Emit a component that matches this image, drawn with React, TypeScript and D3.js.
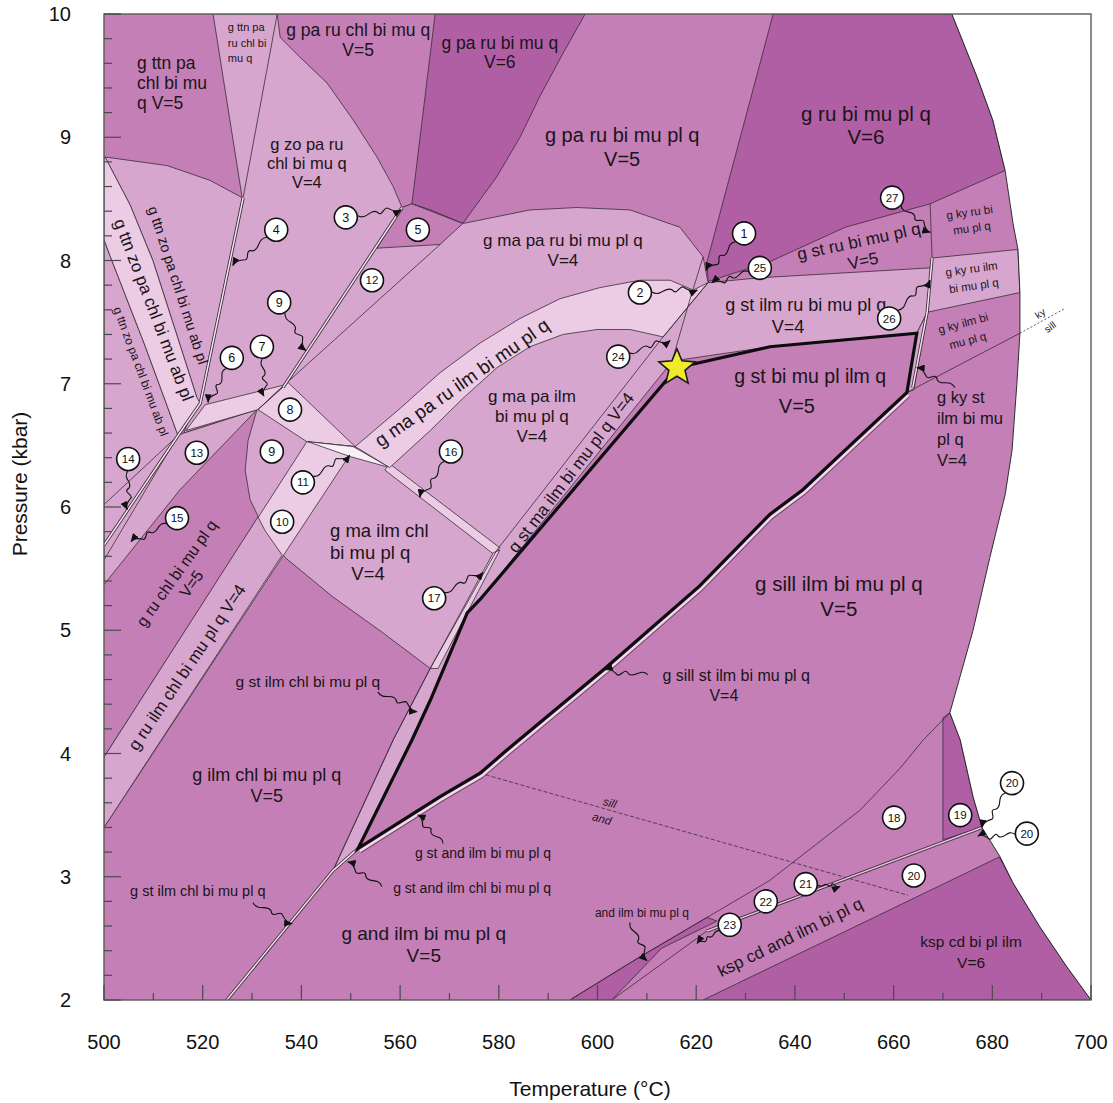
import React, { useEffect } from 'react';
import * as d3 from 'd3';

type Pt = [number, number];

// ---------- axes ----------
const temperatureTicks = [500, 520, 540, 560, 580, 600, 620, 640, 660, 680, 700];
const pressureTicks = [2, 3, 4, 5, 6, 7, 8, 9, 10];

// ---------- field colours (darker = higher variance) ----------
const shade = { v6: '#B05FA4', v5: '#C47FB6', v4: '#D7A6CE', v3: '#ECCCE5', v2: '#F9EFF7' };

// ---------- outer stability limit (T °C, P kbar) ----------
const stabilityEdge: Pt[] = [
  [671.8, 10], [676.9, 9.49], [680.1, 9.14], [682.6, 8.73], [684.2, 8.3], [685.2, 8.09], [685.6, 7.74],
  [685.6, 7.41], [685.0, 7.01], [684.0, 6.46], [682.6, 6.1], [679.5, 5.59], [676.1, 5.0], [671.4, 4.33],
  [673.5, 4.11], [676.1, 3.65], [677.9, 3.4], [681.6, 3.16], [684.2, 2.95], [689.7, 2.59], [695.1, 2.27], [700, 2],
];
const stableRegion: Pt[] = [[500, 10], ...stabilityEdge, [500, 2]];

// ---------- V=6 fields ----------
const paRuBiMuQ: Pt[] = [[567.1, 10], [597.5, 10], [593.0, 9.68], [588.3, 9.33], [584.3, 9.0], [579.6, 8.68], [572.7, 8.3], [566.1, 8.41], [562.4, 8.46]];
const ruBiMuPlQ: Pt[] = [[635.6, 10], [671.8, 10], [676.9, 9.49], [680.1, 9.14], [682.6, 8.73], [667.4, 8.46], [650.2, 8.27], [634.9, 7.99], [622.4, 7.83], [622.2, 7.99]];
const kspCdBiPlIlm: Pt[] = [[621.4, 2.0], [681.4, 3.16], [684.2, 2.95], [689.7, 2.59], [695.1, 2.27], [700, 2.0]];
const field19: Pt[] = [[670.0, 4.29], [671.4, 4.33], [673.5, 4.11], [676.1, 3.65], [677.9, 3.4], [670.0, 3.3]];
const andIlmBiMuPlQ: Pt[] = [[594.4, 2.0], [608.6, 2.35], [622.2, 2.67], [624.2, 2.64], [613.0, 2.42], [602.9, 2.0]];

// ---------- V=4 fields (one connected light area) ----------
const lightArea: Pt[] = [
  [522.1, 10], [535.1, 10], [535.7, 9.81], [539.7, 9.65], [545.2, 9.44], [550.5, 9.14], [555.3, 8.84], [558.6, 8.6],
  [560.4, 8.43], [562.4, 8.46], [566.1, 8.41], [572.7, 8.3], [586.3, 8.41], [595.8, 8.43], [606.6, 8.41], [616.7, 8.27],
  [621.4, 8.03], [622.4, 7.82], [632.9, 7.86], [667.4, 7.94], [667.8, 8.02], [685.2, 8.09], [685.6, 7.74], [666.8, 7.58],
  [664.7, 7.41], [634.9, 7.3], [616.1, 7.19], [615.1, 7.18], [576.2, 5.25], [573.6, 5.14], [566.1, 4.43], [562.4, 4.11],
  [551.5, 3.23], [546.4, 3.05], [558.6, 4.11], [566.1, 4.69], [556.5, 4.98], [546.4, 5.27], [536.7, 5.59], [532.6, 5.81],
  [529.6, 6.06], [528.6, 6.3], [529.2, 6.54], [531.0, 6.79], [516.2, 6.6], [518.8, 6.89], [514.4, 7.44], [509.9, 8.0],
  [505.3, 8.45], [500.2, 8.84], [512.8, 8.77], [521.5, 8.65], [528.0, 8.51],
];
const leftLight: Pt[] = [[500, 8.17], [501.2, 8.04], [508.3, 7.31], [515.0, 6.58], [516.2, 6.6], [531.0, 6.79], [515.4, 6.14], [500, 5.37]];
const ruIlmLowerBand: Pt[] = [[500, 3.97], [531.2, 5.92], [532.6, 5.81], [536.1, 5.61], [500, 3.4]];
const kyStSliver: Pt[] = [[666.8, 7.58], [664.7, 7.41], [662.7, 6.93], [664.1, 6.95]];

// ---------- V=3 / V=2 fields ----------
const ttnZoBand: Pt[] = [[500, 8.84], [500.2, 8.84], [505.3, 8.45], [509.9, 8.0], [514.4, 7.44], [518.8, 6.89], [519.5, 6.84], [515.0, 6.58], [508.3, 7.31], [501.2, 8.04], [500, 8.17]];
const field7Band: Pt[] = [[516.6, 6.62], [520.5, 6.83], [536.5, 6.99], [531.2, 6.79]];
const field8: Pt[] = [[537.3, 7.01], [550.9, 6.49], [541.1, 6.53], [531.2, 6.79]];
const ruIlmBand: Pt[] = [[500, 3.97], [541.1, 6.53], [550.9, 6.49], [500, 3.4]];
const field11: Pt[] = [[541.3, 6.53], [550.5, 6.49], [557.9, 6.32], [549.8, 6.41]];
const field16: Pt[] = [[557.9, 6.35], [580.2, 5.67], [579.2, 5.61], [556.9, 6.3]];
const field17: Pt[] = [[566.1, 4.69], [578.9, 5.63], [580.2, 5.65], [567.7, 4.69]];
const maPaRuIlmBand: Pt[] = [
  [550.9, 6.49], [560.0, 6.8], [568.1, 7.09], [576.2, 7.33], [584.3, 7.53], [592.4, 7.69], [600.5, 7.78], [608.6, 7.84],
  [614.7, 7.84], [619.4, 7.76], [622.4, 7.82], [613.3, 7.38], [606.6, 7.44], [599.9, 7.44], [593.0, 7.4], [586.3, 7.3],
  [579.6, 7.13], [572.7, 6.88], [566.1, 6.62], [557.9, 6.32],
];
const field5: Pt[] = [[555.3, 8.1], [560.4, 8.43], [562.4, 8.46], [572.7, 8.3], [568.1, 8.13]];

// ---------- boundaries inside same-coloured areas ----------
const ttnLine: Pt[] = [[535.1, 10], [528.2, 8.51]];
const chlOutDouble: Pt[] = [[528.2, 8.51], [519.5, 6.84], [515.0, 6.58], [500, 5.69]];
const zoOutDouble: Pt[] = [[560.4, 8.43], [536.3, 6.97]];
const maInLine: Pt[] = [[568.1, 8.13], [537.1, 7.01], [531.2, 6.79]];
const kyRuLine: Pt[] = [[667.4, 8.46], [667.8, 8.02]];
const stInDouble: Pt[] = [[667.8, 8.02], [666.8, 7.58], [663.9, 6.97]];
const kySill: Pt[] = [[662.7, 6.93], [685.6, 7.41]];
const kySillOut: Pt[] = [[685.6, 7.41], [694.7, 7.61]];
const stInLine: Pt[] = [[546.4, 3.05], [558.6, 4.11], [566.1, 4.69], [579.6, 5.65], [613.3, 7.38], [622.4, 7.82]];
const maOutLine: Pt[] = [[615.3, 7.21], [618.7, 7.68], [621.4, 8.03]];
const ttnJunctionA: Pt[] = [[515.0, 6.58], [500, 6.02]];
const ttnJunctionB: Pt[] = [[515.0, 6.58], [500, 5.57]];
const sillAnd: Pt[] = [[576.2, 3.84], [662.9, 2.85]];
const cdIn: Pt[] = [[594.4, 2.0], [608.6, 2.35], [622.2, 2.67], [634.9, 2.97], [653.2, 3.54], [661.3, 3.88], [666.0, 4.11], [671.4, 4.33]];
const kspInLine: Pt[] = [[602.9, 2.0], [622.2, 2.56]];
const kspInDouble: Pt[] = [[622.2, 2.56], [677.9, 3.4]];
const stChlDouble: Pt[] = [[524.9, 2.0], [546.4, 3.05], [551.5, 3.23]];

// ---------- highlighted assemblage outline ----------
const stBiMuPlIlmQ: Pt[] = [
  [616.1, 7.13], [634.9, 7.3], [664.7, 7.41], [662.7, 6.93], [651.2, 6.5], [641.6, 6.14], [634.9, 5.94], [620.7, 5.36],
  [601.5, 4.69], [581.7, 4.03], [576.2, 3.84], [568.1, 3.65], [551.5, 3.23], [562.4, 4.11], [566.1, 4.43], [573.6, 5.14],
  [576.2, 5.25], [616.1, 7.13],
];
const sillStEdge: Pt[] = [[551.5, 3.23], [568.1, 3.65], [576.2, 3.84], [581.7, 4.03], [601.5, 4.69], [620.7, 5.36], [634.9, 5.94], [641.6, 6.14], [651.2, 6.5], [662.7, 6.93]];
const samplePT: Pt = [616.1, 7.13];

// ---------- field labels ----------
type Label = { lines: string[]; at: Pt; size: number; lh?: number; anchor?: string; rot?: number; mid?: boolean; italic?: boolean };
const fieldLabels: Label[] = [
  { lines: ['g ttn pa', 'chl bi mu', 'q V=5'], at: [506.7, 9.55], size: 17.5, lh: 20, anchor: 'start' },
  { lines: ['g ttn pa', 'ru chl bi', 'mu q'], at: [525.1, 9.86], size: 11, lh: 15.5, anchor: 'start' },
  { lines: ['g pa ru chl bi mu q', 'V=5'], at: [551.5, 9.82], size: 17.5, lh: 20 },
  { lines: ['g pa ru bi mu q', 'V=6'], at: [580.2, 9.72], size: 17.5, lh: 19 },
  { lines: ['g pa ru bi mu pl q', 'V=5'], at: [605.0, 8.96], size: 20, lh: 24 },
  { lines: ['g ru bi mu pl q', 'V=6'], at: [654.4, 9.13], size: 20.5, lh: 23 },
  { lines: ['g zo pa ru', 'chl bi mu q', 'V=4'], at: [541.1, 8.9], size: 16.5, lh: 19 },
  { lines: ['g ttn zo pa chl bi mu ab pl'], at: [510.1, 7.6], size: 17, rot: 69, mid: true },
  { lines: ['g ttn zo pa chl bi mu ab pl'], at: [515.0, 7.8], size: 14.5, rot: 72, mid: true },
  { lines: ['g ttn zo pa chl bi mu ab pl'], at: [507.5, 7.1], size: 12, rot: 69.5, mid: true },
  { lines: ['g ma pa ru bi mu pl q', 'V=4'], at: [593.0, 8.12], size: 17, lh: 20 },
  { lines: ['g st ru bi mu pl q', 'V=5'], at: [653.2, 8.11], size: 17, lh: 20, rot: -12 },
  { lines: ['g ky ru bi', 'mu pl q'], at: [675.5, 8.36], size: 11.5, lh: 16, rot: -8 },
  { lines: ['g ky ru ilm', 'bi mu pl q'], at: [675.9, 7.9], size: 11.5, lh: 17, rot: -8 },
  { lines: ['g ky ilm bi', 'mu pl q'], at: [674.3, 7.46], size: 11.5, lh: 18, rot: -15 },
  { lines: ['ky'], at: [689.7, 7.57], size: 10, rot: -35, mid: true },
  { lines: ['sill'], at: [691.7, 7.46], size: 10, rot: -35, mid: true },
  { lines: ['g st ilm ru bi mu pl q'], at: [642.2, 7.59], size: 18 },
  { lines: ['V=4'], at: [638.6, 7.41], size: 18 },
  { lines: ['g st bi mu pl ilm q'], at: [643.1, 7.01], size: 19.5 },
  { lines: ['V=5'], at: [640.4, 6.76], size: 20 },
  { lines: ['g ky st', 'ilm bi mu', 'pl q', 'V=4'], at: [668.8, 6.84], size: 16.5, lh: 21, anchor: 'start' },
  { lines: ['g ma pa ru ilm bi mu pl q'], at: [572.5, 7.01], size: 19, rot: -35, mid: true },
  { lines: ['g ma pa ilm', 'bi mu pl q', 'V=4'], at: [586.7, 6.85], size: 17, lh: 20 },
  { lines: ['g st ma ilm bi mu pl q V=4'], at: [594.6, 6.28], size: 17, rot: -52.7, mid: true },
  { lines: ['g ma ilm chl', 'bi mu pl q'], at: [545.8, 5.76], size: 18.5, lh: 22, anchor: 'start' },
  { lines: ['V=4'], at: [553.5, 5.41], size: 18.5 },
  { lines: ['g ru chl bi mu pl q', 'V=5'], at: [516.2, 5.42], size: 16, lh: 18, rot: -54.5, mid: true },
  { lines: ['g ru ilm chl bi mu pl q V=4'], at: [516.8, 4.7], size: 17, rot: -56, mid: true },
  { lines: ['g st ilm chl bi mu pl q'], at: [541.3, 4.54], size: 15.5 },
  { lines: ['g ilm chl bi mu pl q', 'V=5'], at: [533.0, 3.78], size: 18, lh: 21 },
  { lines: ['g st ilm chl bi mu pl q'], at: [519.0, 2.84], size: 14.5 },
  { lines: ['g and ilm bi mu pl q', 'V=5'], at: [564.8, 2.49], size: 19, lh: 22 },
  { lines: ['g st and ilm bi mu pl q'], at: [576.8, 3.15], size: 14 },
  { lines: ['g st and ilm chl bi mu pl q'], at: [574.6, 2.87], size: 14 },
  { lines: ['g sill st ilm bi mu pl q'], at: [628.1, 4.59], size: 16 },
  { lines: ['V=4'], at: [625.6, 4.43], size: 16 },
  { lines: ['g sill ilm bi mu pl q', 'V=5'], at: [648.9, 5.32], size: 20.5, lh: 25 },
  { lines: ['sill'], at: [602.5, 3.6], size: 11.5, rot: 16, mid: true, italic: true },
  { lines: ['and'], at: [600.9, 3.47], size: 11.5, rot: 16, mid: true, italic: true },
  { lines: ['and ilm bi mu pl q'], at: [609.0, 2.67], size: 12 },
  { lines: ['ksp cd and ilm bi pl q'], at: [639.0, 2.51], size: 17, rot: -26, mid: true },
  { lines: ['ksp cd bi pl ilm', 'V=6'], at: [675.7, 2.43], size: 15.5, lh: 21 },
];

// ---------- numbered small fields ----------
type Callout = { n: string; at: Pt; to?: Pt };
const callouts: Callout[] = [
  { n: '1', at: [629.7, 8.22], to: [622.0, 7.92] },
  { n: '2', at: [608.6, 7.74], to: [620.2, 7.76] },
  { n: '3', at: [549.0, 8.35], to: [560.2, 8.41] },
  { n: '4', at: [534.9, 8.25], to: [526.1, 7.96] },
  { n: '5', at: [563.6, 8.25] },
  { n: '6', at: [525.9, 7.21], to: [521.1, 6.85] },
  { n: '7', at: [532.0, 7.3], to: [532.4, 6.9] },
  { n: '8', at: [537.7, 6.79] },
  { n: '9', at: [535.5, 7.66], to: [540.9, 7.27] },
  { n: '9', at: [534.0, 6.45] },
  { n: '10', at: [536.1, 5.88] },
  { n: '11', at: [540.3, 6.2], to: [549.8, 6.42] },
  { n: '12', at: [554.3, 7.84] },
  { n: '13', at: [518.8, 6.44] },
  { n: '14', at: [504.9, 6.39], to: [504.7, 5.98] },
  { n: '15', at: [514.8, 5.91], to: [505.5, 5.72] },
  { n: '16', at: [570.3, 6.45], to: [564.0, 6.08] },
  { n: '17', at: [566.9, 5.26], to: [576.8, 5.47] },
  { n: '18', at: [660.1, 3.48] },
  { n: '19', at: [673.5, 3.5] },
  { n: '20', at: [684.0, 3.76], to: [677.9, 3.4] },
  { n: '20', at: [687.0, 3.35], to: [677.1, 3.33] },
  { n: '20', at: [664.1, 3.01] },
  { n: '21', at: [642.2, 2.94], to: [649.1, 2.92] },
  { n: '22', at: [634.1, 2.8] },
  { n: '23', at: [626.8, 2.61], to: [620.2, 2.46] },
  { n: '24', at: [604.2, 7.22], to: [614.7, 7.35] },
  { n: '25', at: [632.9, 7.94], to: [623.2, 7.82] },
  { n: '26', at: [659.1, 7.53], to: [667.4, 7.84] },
  { n: '27', at: [659.7, 8.51], to: [667.4, 8.23] },
];
const labelPointers: [Pt, Pt][] = [
  [[555.5, 4.5], [563.4, 4.34]],
  [[610.2, 4.64], [601.5, 4.68]],
  [[672.4, 6.97], [664.7, 7.13]],
  [[530.2, 2.79], [538.1, 2.62]],
  [[568.7, 3.27], [563.6, 3.5]],
  [[556.3, 2.92], [549.4, 3.12]],
  [[606.6, 2.63], [610.0, 2.32]],
];

// ---------- scales ----------
const W = 1113;
const H = 1103;
const x = d3.scaleLinear().domain([500, 700]).range([104, 1091]);
const y = d3.scaleLinear().domain([2, 10]).range([1000, 14]);
const line = d3.line<Pt>().x((d) => x(d[0])).y((d) => y(d[1]));
const closed = (pts: Pt[]) => (line(pts) || '') + 'Z';

const INK = '#3a2c37';
const FONT = "'Liberation Sans', Arial, Helvetica, sans-serif";

function squiggle(from: Pt, to: Pt, gap: number): string {
  const x0 = x(from[0]);
  const y0 = y(from[1]);
  const x1 = x(to[0]);
  const y1 = y(to[1]);
  const L = Math.hypot(x1 - x0, y1 - y0);
  const ux = (x1 - x0) / L;
  const uy = (y1 - y0) / L;
  const nx = -uy;
  const ny = ux;
  const sx = x0 + ux * gap;
  const sy = y0 + uy * gap;
  const l = L - gap;
  const w = Math.min(6, l * 0.16);
  const p = (t: number, n: number) => `${sx + ux * l * t + nx * n},${sy + uy * l * t + ny * n}`;
  return `M${sx},${sy} C${p(0.2, w)} ${p(0.3, -w)} ${p(0.45, -w * 0.2)} C${p(0.55, w * 0.9)} ${p(0.62, -w)} ${p(0.7, -w * 0.6)} Q${p(0.88, w * 0.4)} ${x1},${y1}`;
}

function starPath(c: Pt, R: number, r: number): string {
  const cx = x(c[0]);
  const cy = y(c[1]);
  const pts: string[] = [];
  for (let i = 0; i < 10; i++) {
    const a = -Math.PI / 2 + (i * Math.PI) / 5;
    const rad = i % 2 === 0 ? R : r;
    pts.push(`${cx + rad * Math.cos(a)},${cy + rad * Math.sin(a)}`);
  }
  return 'M' + pts.join('L') + 'Z';
}

const DoubleLine = ({ pts, pale = '#F4E4F0' }: { pts: Pt[]; pale?: string }) => (
  <g fill="none">
    <path d={line(pts) || ''} stroke={INK} strokeWidth={3.2} />
    <path d={line(pts) || ''} stroke={pale} strokeWidth={1.5} />
  </g>
);

const FieldLabel = ({ l }: { l: Label }) => {
  const lh = l.lh ?? l.size * 1.15;
  const y0 = l.mid ? l.size * 0.35 - ((l.lines.length - 1) * lh) / 2 : 0;
  return (
    <g transform={`translate(${x(l.at[0])},${y(l.at[1])}) rotate(${l.rot ?? 0})`}>
      <text
        fontSize={l.size}
        textAnchor={l.anchor ?? 'middle'}
        fill="#1b1418"
        fontStyle={l.italic ? 'italic' : 'normal'}
      >
        {l.lines.map((s, i) => (
          <tspan key={i} x={0} y={y0 + i * lh}>
            {s}
          </tspan>
        ))}
      </text>
    </g>
  );
};

export default function App() {
  useEffect(() => {
    document.body.style.margin = '0';
  }, []);

  const fills: { pts: Pt[]; fill: string }[] = [
    { pts: paRuBiMuQ, fill: shade.v6 },
    { pts: ruBiMuPlQ, fill: shade.v6 },
    { pts: kspCdBiPlIlm, fill: shade.v6 },
    { pts: field19, fill: shade.v6 },
    { pts: andIlmBiMuPlQ, fill: shade.v6 },
    { pts: lightArea, fill: shade.v4 },
    { pts: leftLight, fill: shade.v4 },
    { pts: ttnZoBand, fill: shade.v3 },
    { pts: field7Band, fill: shade.v3 },
    { pts: field8, fill: shade.v3 },
    { pts: ruIlmBand, fill: shade.v3 },
    { pts: ruIlmLowerBand, fill: shade.v4 },
    { pts: field11, fill: shade.v2 },
    { pts: field16, fill: shade.v3 },
    { pts: field17, fill: shade.v3 },
    { pts: maPaRuIlmBand, fill: shade.v3 },
    { pts: field5, fill: shade.v5 },
    { pts: kyStSliver, fill: shade.v4 },
  ];

  const yTickVals = d3.range(20, 101, 2).map((v) => v / 10);
  const xTickVals = d3.range(500, 701, 10);

  return (
    <svg
      width={W}
      height={H}
      style={{ display: 'block', position: 'absolute', left: 0, top: 0, background: '#fff' }}
      fontFamily={FONT}
    >
      <defs>
        <clipPath id="stable">
          <path d={closed(stableRegion)} />
        </clipPath>
        <marker id="tip" viewBox="0 0 10 8" refX="9" refY="4" markerWidth="9" markerHeight="7" markerUnits="userSpaceOnUse" orient="auto">
          <path d="M0,0 L10,4 L0,8 Z" fill="#111" />
        </marker>
      </defs>

      <g clipPath="url(#stable)">
        <path d={closed(stableRegion)} fill={shade.v5} />
        {fills.map((f, i) => (
          <path key={i} d={closed(f.pts)} fill={f.fill} stroke={INK} strokeWidth={0.8} strokeLinejoin="round" />
        ))}

        <g fill="none" stroke={INK} strokeWidth={0.8}>
          <path d={line(ttnLine) || ''} />
          <path d={line(maInLine) || ''} />
          <path d={line(kyRuLine) || ''} />
          <path d={line(kySill) || ''} />
          <path d={line(stInLine) || ''} />
          <path d={line(maOutLine) || ''} />
          <path d={line(ttnJunctionA) || ''} />
          <path d={line(ttnJunctionB) || ''} />
          <path d={line(cdIn) || ''} />
          <path d={line(kspInLine) || ''} />
          <path d={line(sillAnd) || ''} strokeDasharray="4 2" />
        </g>
        <DoubleLine pts={chlOutDouble} />
        <DoubleLine pts={zoOutDouble} />
        <DoubleLine pts={stInDouble} />
        <DoubleLine pts={stChlDouble} />
        <DoubleLine pts={kspInDouble} pale="#E7C3DF" />

        {/* thin sill-st sliver running under the lower heavy edge */}
        <path d={line(sillStEdge) || ''} transform="translate(1.6,2.6)" fill="none" stroke="#F1DCEC" strokeWidth={2.2} />
        <path d={line(sillStEdge) || ''} transform="translate(2.8,4.3)" fill="none" stroke={INK} strokeWidth={0.7} />
        <path d={line(stBiMuPlIlmQ) || ''} fill="none" stroke="#0d0d0d" strokeWidth={3.2} strokeLinejoin="miter" />
      </g>

      <path d={line(stabilityEdge) || ''} fill="none" stroke="#2b2b2b" strokeWidth={1} />
      <path d={line(kySillOut) || ''} fill="none" stroke="#333" strokeWidth={0.8} strokeDasharray="2 2" />

      {/* frame and inward ticks */}
      <rect x={104} y={14} width={987} height={986} fill="none" stroke="#5a5a5a" strokeWidth={1.4} />
      <g stroke="#4a4a4a" strokeWidth={1.2}>
        {yTickVals.map((v) => {
          const major = Math.abs(v - Math.round(v)) < 1e-6;
          return <line key={'y' + v} x1={x(500)} x2={x(500) + (major ? 17 : 8)} y1={y(v)} y2={y(v)} />;
        })}
        {xTickVals.map((v) => {
          const major = v % 20 === 0;
          return <line key={'x' + v} x1={x(v)} x2={x(v)} y1={y(2)} y2={y(2) - (major ? 15 : 7)} />;
        })}
      </g>
      <g fontSize={20} fill="#111">
        {pressureTicks.map((v) => (
          <text key={'pl' + v} x={x(500) - 33} y={y(v)} dy="0.36em" textAnchor="end">
            {v}
          </text>
        ))}
        {temperatureTicks.map((v) => (
          <text key={'tl' + v} x={x(v)} y={y(2) + 49} textAnchor="middle">
            {v}
          </text>
        ))}
      </g>
      <text transform={`translate(27,${(y(2) + y(10)) / 2 - 23}) rotate(-90)`} fontSize={21} textAnchor="middle" fill="#111">
        Pressure (kbar)
      </text>
      <text x={590} y={1096} fontSize={21} textAnchor="middle" fill="#111">
        Temperature (°C)
      </text>

      {/* field names */}
      {fieldLabels.map((l, i) => (
        <FieldLabel key={i} l={l} />
      ))}

      {/* pointers */}
      <g fill="none" stroke="#111" strokeWidth={1.1}>
        {labelPointers.map(([a, b], i) => (
          <path key={'lp' + i} d={squiggle(a, b, 0)} markerEnd="url(#tip)" />
        ))}
        {callouts
          .filter((c) => c.to)
          .map((c, i) => (
            <path key={'cp' + i} d={squiggle(c.at, c.to as Pt, 12)} markerEnd="url(#tip)" />
          ))}
      </g>
      {callouts.map((c, i) => (
        <g key={'c' + i} transform={`translate(${x(c.at[0])},${y(c.at[1])})`}>
          <circle r={11.5} fill="#fff" stroke="#111" strokeWidth={1.6} />
          <text fontSize={c.n.length > 1 ? 11.5 : 12.5} textAnchor="middle" dy="0.36em" fill="#111">
            {c.n}
          </text>
        </g>
      ))}

      <path d={starPath(samplePT, 19, 8.5)} fill="#F1EA2B" stroke="#1a1a1a" strokeWidth={1.6} strokeLinejoin="miter" />
    </svg>
  );
}
